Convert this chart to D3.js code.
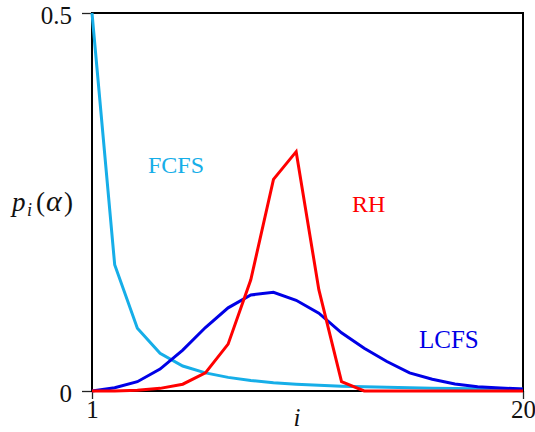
<!DOCTYPE html>
<html>
<head>
<meta charset="utf-8">
<script src="https://cdn.jsdelivr.net/npm/d3@7"></script>
<style>
  html, body { margin: 0; padding: 0; background: #fff; }
  svg { display: block; }
  text { font-family: "Liberation Serif", "DejaVu Serif", serif; }
</style>
</head>
<body>
<svg id="chart" width="535" height="432"></svg>
<script>
// ---- data ----
const positions = [1,2,3,4,5,6,7,8,9,10,11,12,13,14,15,16,17,18,19,20];
const fcfs = [0.5, 0.167, 0.083, 0.050, 0.033, 0.024, 0.018, 0.014, 0.011, 0.009,
              0.0076, 0.0064, 0.0055, 0.0048, 0.0042, 0.0037, 0.0033, 0.0029, 0.0026, 0.0024];
const lcfs = [0.0, 0.0044, 0.0123, 0.029, 0.054, 0.084, 0.110, 0.127, 0.1305, 0.120,
              0.103, 0.077, 0.0565, 0.039, 0.024, 0.0155, 0.0093, 0.0057, 0.004, 0.0026];
const rh   = [0.0, 0.0, 0.001, 0.0035, 0.009, 0.024, 0.062, 0.147, 0.280, 0.3166,
              0.134, 0.0123, 0.0, 0.0, 0.0, 0.0, 0.0, 0.0, 0.0, 0.0];
const xTicks = [1, 20];
const yTicks = [0, 0.5];
const yTickLabels = ["0", "0.5"];
const seriesNames = ["FCFS", "LCFS", "RH"];

// ---- layout ----
const svg = d3.select("#chart");
const mLeft = 92, mRight = 523, mTop = 13, mBottom = 391;
const x = d3.scaleLinear().domain([1, 20]).range([mLeft, mRight]);
const y = d3.scaleLinear().domain([0, 0.5]).range([mBottom, mTop]);

const colors = { FCFS: "#16aee8", LCFS: "#0000e6", RH: "#ff0000" };
const dataBy = { FCFS: fcfs, LCFS: lcfs, RH: rh };

// axes
const yAxis = d3.axisLeft(y).tickValues(yTicks)
  .tickFormat((d, i) => yTickLabels[i]).tickSize(10).tickPadding(10);
const gy = svg.append("g").attr("transform", `translate(${mLeft},0)`).call(yAxis);
gy.select(".domain").remove();
gy.selectAll("line").attr("stroke", "#222").attr("stroke-width", 1.3);
gy.selectAll("text").attr("font-size", 25).attr("fill", "#111")
  .attr("font-family", "Liberation Serif, serif").attr("dy", "0.4em");

const xAxis = d3.axisBottom(x).tickValues(xTicks).tickFormat(d3.format("d"))
  .tickSize(8).tickPadding(1);
const gx = svg.append("g").attr("transform", `translate(0,${mBottom})`).call(xAxis);
gx.select(".domain").remove();
gx.selectAll("line").attr("stroke", "#222").attr("stroke-width", 1.3);
gx.selectAll("text").attr("font-size", 25).attr("fill", "#111")
  .attr("font-family", "Liberation Serif, serif");

// frame
svg.append("rect")
  .attr("x", mLeft).attr("y", mTop)
  .attr("width", mRight - mLeft).attr("height", mBottom - mTop)
  .attr("fill", "none").attr("stroke", "#000").attr("stroke-width", 2);

// lines
const line = d3.line().x((d, i) => x(positions[i])).y(d => y(d));
seriesNames.forEach(name => {
  svg.append("path")
    .datum(dataBy[name])
    .attr("fill", "none")
    .attr("stroke", colors[name])
    .attr("stroke-width", 3)
    .attr("stroke-linejoin", "miter")
    .attr("d", line);
});

// series labels
const labels = [
  { name: "FCFS", x: 148, y: 173, size: 24 },
  { name: "RH",   x: 352, y: 212, size: 24 },
  { name: "LCFS", x: 419, y: 348, size: 25 }
];
labels.forEach(l => {
  svg.append("text").attr("x", l.x).attr("y", l.y)
    .attr("font-size", l.size).attr("fill", colors[l.name]).text(l.name);
});

// axis titles
svg.append("text").attr("x", 297).attr("y", 426).attr("text-anchor", "middle")
  .attr("font-size", 25).attr("font-style", "italic").attr("fill", "#111").text("i");

const yl = svg.append("text").attr("y", 211)
  .attr("font-size", 27).attr("fill", "#111");
yl.append("tspan").attr("x", 12).attr("font-style", "italic").text("p");
yl.append("tspan").attr("x", 27).attr("font-style", "italic").attr("font-size", 18).attr("dy", 5).text("i");
yl.append("tspan").attr("x", 36).attr("dy", -5).text("(");
yl.append("tspan").attr("x", 46).attr("font-style", "italic").attr("font-size", 30).text("α");
yl.append("tspan").attr("x", 64).text(")");
</script>
</body>
</html>
